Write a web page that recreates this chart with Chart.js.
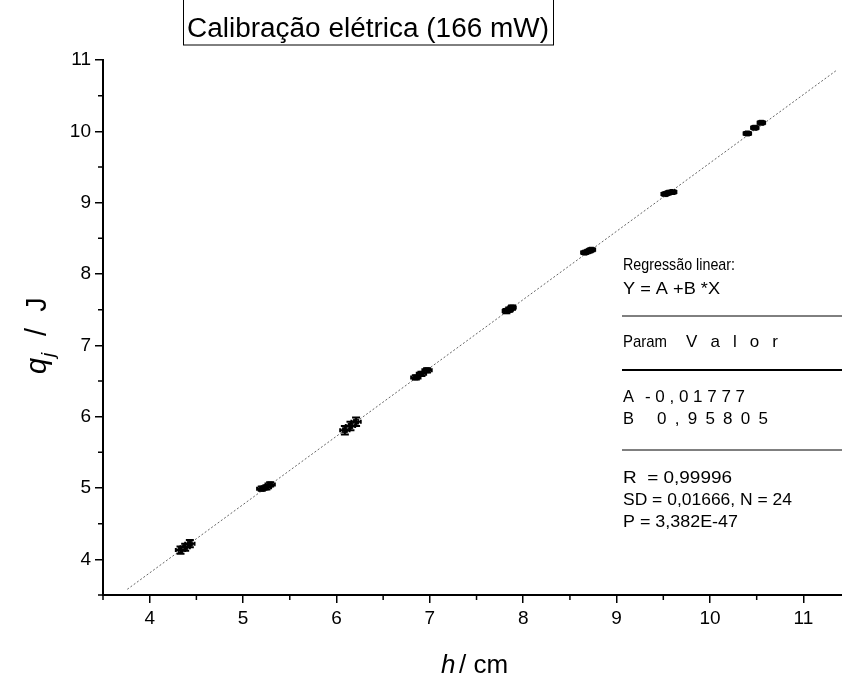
<!DOCTYPE html>
<html>
<head>
<meta charset="utf-8">
<script src="https://cdn.jsdelivr.net/npm/chart.js@4.4.0/dist/chart.umd.min.js"></script>
<style>
  body { margin: 0; background: #fff; }
  #wrap { width: 842px; height: 682px; }
</style>
</head>
<body>
<div id="wrap"><canvas id="myChart" width="842" height="682"></canvas></div>
<script>
// measured points (h / cm, q_j / J)
const hCm = [4.33, 4.38, 4.43, 5.20, 5.25, 5.29, 6.09, 6.15, 6.21, 6.85, 6.91, 6.97,
             7.82, 7.85, 7.88, 8.66, 8.70, 8.73, 9.52, 9.56, 9.60, 10.40, 10.48, 10.55];
const qJ  = [4.13, 4.17, 4.22, 4.99, 5.01, 5.05, 5.81, 5.87, 5.93, 6.55, 6.60, 6.65,
             7.48, 7.50, 7.53, 8.30, 8.32, 8.34, 9.12, 9.14, 9.15, 9.97, 10.05, 10.12];
const hErr = [0.05, 0.05, 0.05, 0.05, 0.05, 0.05, 0.05, 0.05, 0.05, 0.05, 0.05, 0.05,
              0.04, 0.04, 0.04, 0.04, 0.04, 0.04, 0.04, 0.04, 0.04, 0.04, 0.04, 0.04];
const qErr = [0.05, 0.05, 0.05, 0.03, 0.03, 0.03, 0.06, 0.06, 0.06, 0.03, 0.03, 0.03,
              0.03, 0.03, 0.03, 0.02, 0.02, 0.02, 0.02, 0.02, 0.02, 0.02, 0.02, 0.02];

// regression line ends
const fitX = [3.76, 11.36];
const fitY = [3.58, 10.86];

const xTicks = [4, 5, 6, 7, 8, 9, 10, 11];
const yTicks = [4, 5, 6, 7, 8, 9, 10, 11];

const titleText = 'Calibração elétrica (166 mW)';
// text, x, y, width, mode ('fit' squeezes glyphs, 'spread' adds letter spacing)
const fitText = [
    ['Regressão linear:', 623, 265, 112, 'fit'],
    ['Y = A +B *X', 623, 289, 97, 'fit'],
    ['Param', 623, 342, 44, 'fit'],
    ['Valor', 686, 342, 92, 'spread'],
    ['A', 623, 397, 11, 'fit'],
    ['-0,01777', 645, 397, 100, 'spread'],
    ['B', 623, 419, 11, 'fit'],
    ['0,95805', 657, 419, 111, 'spread'],
    ['R  = 0,99996', 623, 478, 109, 'fit'],
    ['SD = 0,01666, N = 24', 623, 500, 169, 'fit'],
    ['P = 3,382E-47', 623, 522, 115, 'fit']
];
const fitRules = [[316, 1], [370, 2], [450, 1]];

const FONT = '"Liberation Sans", Arial, sans-serif';

const points = hCm.map((h, i) => ({ x: h, y: qJ[i] }));

const extras = {
    id: 'extras',
    afterDatasetsDraw(chart) {
        const ctx = chart.ctx;
        const xs = chart.scales.x, ys = chart.scales.y;
        // error bars
        ctx.save();
        ctx.strokeStyle = '#000';
        ctx.lineWidth = 2;
        points.forEach((p, i) => {
            const px = xs.getPixelForValue(p.x), py = ys.getPixelForValue(p.y);
            const x0 = xs.getPixelForValue(p.x - hErr[i]), x1 = xs.getPixelForValue(p.x + hErr[i]);
            const y0 = ys.getPixelForValue(p.y - qErr[i]), y1 = ys.getPixelForValue(p.y + qErr[i]);
            ctx.beginPath();
            ctx.moveTo(x0, py); ctx.lineTo(x1, py);
            ctx.moveTo(px, y0); ctx.lineTo(px, y1);
            ctx.moveTo(x0, py - 2); ctx.lineTo(x0, py + 2);
            ctx.moveTo(x1, py - 2); ctx.lineTo(x1, py + 2);
            ctx.moveTo(px - 4, y0); ctx.lineTo(px + 4, y0);
            ctx.moveTo(px - 4, y1); ctx.lineTo(px + 4, y1);
            ctx.stroke();
        });
        ctx.restore();
    },
    afterDraw(chart) {
        const ctx = chart.ctx;
        const xs = chart.scales.x, ys = chart.scales.y;
        const area = chart.chartArea;
        ctx.save();
        ctx.strokeStyle = '#000';
        ctx.fillStyle = '#000';

        // bottom axis runs on to the canvas edge
        ctx.lineWidth = 2;
        ctx.beginPath();
        ctx.moveTo(area.right - 1, area.bottom);
        ctx.lineTo(chart.width, area.bottom);
        ctx.stroke();

        // minor ticks
        ctx.lineWidth = 1.5;
        ctx.beginPath();
        for (let v = 3.5; v <= 11.36; v += 1) {
            const px = xs.getPixelForValue(v);
            ctx.moveTo(px, area.bottom); ctx.lineTo(px, area.bottom + 5);
        }
        for (let v = 3.5; v <= 11; v += 1) {
            const py = ys.getPixelForValue(v);
            ctx.moveTo(area.left, py); ctx.lineTo(area.left - 5, py);
        }
        ctx.stroke();

        // title box
        ctx.lineWidth = 1;
        ctx.strokeRect(183.5, -2, 370, 47);
        drawText(ctx, titleText, 187, 37, 27, 362, 'fit', 'alphabetic');

        // x title: h / cm
        ctx.textBaseline = 'alphabetic';
        ctx.font = 'italic 26px ' + FONT;
        ctx.fillText('h', 441, 673);
        ctx.font = '26px ' + FONT;
        ctx.fillText('/ cm', 459, 673);

        // y title: q_j / J
        ctx.save();
        ctx.translate(46, 374);
        ctx.rotate(-Math.PI / 2);
        ctx.font = 'italic 29px ' + FONT;
        ctx.fillText('q', 0, 0);
        ctx.font = 'italic 19px ' + FONT;
        ctx.fillText('j', 17, 8);
        ctx.font = '29px ' + FONT;
        ctx.fillText('/  J', 38, 0);
        ctx.restore();

        // regression text
        fitText.forEach(([t, x, y, w, mode]) => drawText(ctx, t, x, y, 17, w, mode, 'middle'));
        fitRules.forEach(([y, w]) => {
            ctx.lineWidth = w;
            ctx.beginPath();
            ctx.moveTo(622, y); ctx.lineTo(842, y);
            ctx.stroke();
        });
        ctx.restore();
    }
};

function drawText(ctx, text, x, y, size, width, mode, baseline) {
    ctx.save();
    ctx.font = size + 'px ' + FONT;
    ctx.textBaseline = baseline;
    if (mode === 'spread') {
        // place each glyph by hand so the string spans the given width
        const ws = [...text].map(c => ctx.measureText(c).width);
        const total = ws.reduce((a, b) => a + b, 0);
        const gap = (width - total) / (ws.length - 1);
        let cx = x;
        [...text].forEach((c, i) => { ctx.fillText(c, cx, y); cx += ws[i] + gap; });
    } else {
        const w = ctx.measureText(text).width;
        ctx.translate(x, y);
        ctx.scale(width / w, 1);
        ctx.fillText(text, 0, 0);
    }
    ctx.restore();
}

const ctx = document.getElementById('myChart').getContext('2d');
const myChart = new Chart(ctx, {
    type: 'scatter',
    data: {
        datasets: [{
            label: 'fit',
            data: fitX.map((x, i) => ({ x: x, y: fitY[i] })),
            showLine: true,
            borderColor: '#666',
            borderWidth: 1,
            borderDash: [2, 2],
            pointRadius: 0
        }, {
            label: 'q_j',
            data: points,
            pointStyle: 'rect',
            pointRadius: 3.5,
            backgroundColor: '#000',
            borderColor: '#000'
        }]
    },
    options: {
        responsive: false,
        animation: false,
        layout: { padding: { top: 60, right: 0, left: 0, bottom: 0 } },
        plugins: {
            legend: { display: false },
            tooltip: { enabled: false }
        },
        scales: {
            x: {
                type: 'linear',
                min: 3.5,
                max: 11.36,
                afterFit: s => { s.height = 87; },
                afterBuildTicks: s => { s.ticks = xTicks.map(v => ({ value: v })); },
                border: { display: true, color: '#000', width: 2 },
                grid: { drawOnChartArea: false, color: '#000', lineWidth: 1.5, tickLength: 8 },
                ticks: { color: '#000', font: { family: FONT, size: 19 }, padding: 4, maxRotation: 0 }
            },
            y: {
                type: 'linear',
                min: 3.5,
                max: 11,
                afterFit: s => { s.width = 103; },
                afterBuildTicks: s => { s.ticks = yTicks.map(v => ({ value: v })); },
                border: { display: true, color: '#000', width: 2 },
                grid: { drawOnChartArea: false, color: '#000', lineWidth: 1.5, tickLength: 8 },
                ticks: { color: '#000', font: { family: FONT, size: 19 }, padding: 4 }
            }
        }
    },
    plugins: [extras]
});
</script>
</body>
</html>
